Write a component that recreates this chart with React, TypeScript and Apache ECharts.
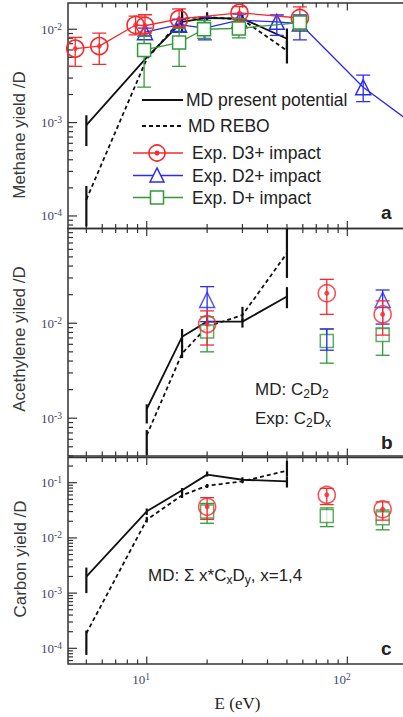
import { useEffect, useRef } from 'react';
import * as echarts from 'echarts';

// ---- palette & fonts ----
const RED = '#f42a2e';
const BLUE = '#2b2bf2';
const GREEN = '#33993a';
const INK = '#222';
const FRAME = '#333';
const TICK_TEXT = '#3f4669';
const SANS = "'Liberation Sans', Arial, Helvetica, sans-serif";
const SERIF = "'Liberation Serif', 'Times New Roman', serif";

// ---- energy axis (eV), shared by the three panels ----
const E_MIN = 4.05;
const E_MAX = 195;
const E_MINOR_TICKS = [5, 6, 7, 8, 9, 20, 30, 40, 50, 60, 70, 80, 90];
const E_MAJOR_TICKS = [10, 100];

// ---- yield axis limits per panel ----
const Y_RANGE_A = [7.34e-5, 0.0191];
const Y_RANGE_B = [4.0e-4, 0.0995];
const Y_RANGE_C = [5.2e-5, 0.286];

// ---- (a) methane yield ----
const mdE_a = [5, 10, 15, 20, 30, 50];
const mdPresent_a = [0.00094, 0.005, 0.012, 0.0132, 0.013, 0.0079];
const mdPresentLo_a = [0.00056, null, 0.0091, 0.0124, 0.0122, 0.006];
const mdPresentHi_a = [0.0012, null, 0.0165, 0.0152, 0.0142, 0.0102];
const mdRebo_a = [0.00015, 0.0048, 0.013, 0.0135, 0.0127, 0.0059];
const mdReboLo_a = [7.7e-5, null, 0.0118, 0.0128, 0.0118, 0.0043];
const mdReboHi_a = [0.00021, null, 0.0145, 0.0142, 0.0136, 0.0075];

const d3E_a = [4.4, 5.8, 8.8, 9.8, 14.5, 29, 58];
const d3Y_a = [0.0062, 0.0066, 0.0111, 0.0109, 0.0129, 0.015, 0.0132];
const d3Lo_a = [0.004, 0.0042, 0.0087, 0.0091, 0.0106, 0.0126, 0.0097];
const d3Hi_a = [0.0082, 0.0091, 0.0138, 0.0143, 0.0165, 0.0175, 0.0174];

const d2E_a = [9.8, 14.5, 19.5, 29, 44.5, 58, 120, 300];
const d2Y_a = [0.0093, 0.0112, 0.0103, 0.0125, 0.012, 0.0115, 0.00239, 0.00056];
const d2Lo_a = [0.0085, 0.0095, 0.0077, 0.0108, 0.0086, 0.0077, 0.00168, null];
const d2Hi_a = [0.0103, 0.0128, 0.0135, 0.0145, 0.0142, 0.0142, 0.00323, null];
const d2Hidden_a = [19.5]; // point sits under a D+ square

const d1E_a = [9.7, 14.5, 19.3, 28.8, 58];
const d1Y_a = [0.006, 0.0072, 0.01, 0.0102, 0.0118];
const d1Lo_a = [0.0024, 0.004, 0.008, 0.0081, 0.0098];
const d1Hi_a = [0.0084, 0.0102, 0.0124, 0.013, 0.014];

// ---- (b) acetylene yield ----
const mdE_b = [10, 15, 20, 30, 50];
const mdPresent_b = [0.00125, 0.0072, 0.0104, 0.0104, 0.0191];
const mdPresentLo_b = [0.00088, 0.0055, 0.0097, 0.009, 0.0144];
const mdPresentHi_b = [0.0014, 0.0087, 0.0112, 0.0112, 0.024];
const mdRebo_b = [0.00066, 0.0048, 0.0092, 0.0122, 0.0546];
const mdReboLo_b = [0.00041, 0.0043, 0.0088, 0.0105, 0.03];
const mdReboHi_b = [0.00075, 0.0058, 0.0097, 0.0149, 0.1];

const expE_b = [20, 79, 150];
const d3Y_b = [0.0098, 0.0207, 0.0124];
const d3Lo_b = [0.0059, 0.0124, 0.0075];
const d3Hi_b = [0.0135, 0.029, 0.0172];
const d2Y_b = [0.0176, 0.0068, 0.0176];
const d2Lo_b = [0.0104, 0.0052, 0.0098];
const d2Hi_b = [0.0243, 0.0087, 0.0224];
const d2Hidden_b = [79];
const d1Y_b = [0.0082, 0.0065, 0.0075];
const d1Lo_b = [0.005, 0.0038, 0.0046];
const d1Hi_b = [0.0117, 0.0087, 0.0089];

// ---- (c) carbon yield ----
const mdE_c = [5, 10, 15, 20, 30, 50];
const mdPresent_c = [0.00198, 0.0303, 0.0728, 0.14, 0.113, 0.106];
const mdPresentLo_c = [0.001, 0.026, 0.064, 0.13, 0.102, 0.082];
const mdPresentHi_c = [0.0029, 0.034, 0.08, 0.16, 0.125, 0.13];
const mdRebo_c = [0.000187, 0.0213, 0.059, 0.088, 0.106, 0.165];
const mdReboLo_c = [7.6e-5, 0.019, 0.053, 0.08, 0.098, 0.13];
const mdReboHi_c = [0.00021, 0.024, 0.066, 0.095, 0.115, 0.25];

const expE_c = [20, 79, 150];
const d3Y_c = [0.0367, 0.06, 0.033];
const d3Lo_c = [0.0217, 0.04, 0.021];
const d3Hi_c = [0.0535, 0.079, 0.045];
const d1Y_c = [0.03, 0.0249, 0.0227];
const d1Lo_c = [0.0184, 0.016, 0.014];
const d1Hi_c = [0.042, 0.035, 0.032];

// ---- layout ----
const GRIDS = [
  { top: 3, height: 225.5 },
  { top: 228.5, height: 227.5 },
  { top: 457.5, height: 206.5 },
];
const GRID_LEFT = 68;
const GRID_WIDTH = 337.5;

const pairs = (xs: number[], ys: number[]) => xs.map((x, i) => [x, ys[i]]);

function errorBars(gi: number, xs: number[], lo: (number | null)[], hi: (number | null)[], color: string, cap: number, width: number, z: number) {
  const data = xs
    .map((x, i) => [x, lo[i], hi[i]])
    .filter((d) => d[1] != null && d[2] != null);
  return {
    type: 'custom',
    xAxisIndex: gi,
    yAxisIndex: gi,
    z,
    silent: true,
    clip: true,
    encode: { x: 0, y: [1, 2] },
    data,
    renderItem: (_params: any, api: any) => {
      const x = api.value(0);
      const p1 = api.coord([x, api.value(1)]);
      const p2 = api.coord([x, api.value(2)]);
      const style = { stroke: color, lineWidth: width, fill: 'none' };
      const children: any[] = [
        { type: 'line', shape: { x1: p1[0], y1: p1[1], x2: p2[0], y2: p2[1] }, style },
      ];
      if (cap > 0) {
        children.push({ type: 'line', shape: { x1: p1[0] - cap / 2, y1: p1[1], x2: p1[0] + cap / 2, y2: p1[1] }, style });
        children.push({ type: 'line', shape: { x1: p2[0] - cap / 2, y1: p2[1], x2: p2[0] + cap / 2, y2: p2[1] }, style });
      }
      return { type: 'group', children };
    },
  };
}

function xTicks(gi: number, yRange: number[]) {
  const yRef = Math.sqrt(yRange[0] * yRange[1]);
  const data = [
    ...E_MINOR_TICKS.map((v) => [v, yRef, 0]),
    ...E_MAJOR_TICKS.map((v) => [v, yRef, 1]),
  ];
  return {
    type: 'custom',
    xAxisIndex: gi,
    yAxisIndex: gi,
    z: 1,
    silent: true,
    encode: { x: 0, y: 1 },
    data,
    renderItem: (params: any, api: any) => {
      const cs = params.coordSys;
      const px = api.coord([api.value(0), api.value(1)])[0];
      const len = api.value(2) === 1 ? 7.5 : 4.5;
      const style = { stroke: FRAME, lineWidth: 1.2 };
      const bottom = cs.y + cs.height;
      return {
        type: 'group',
        children: [
          { type: 'line', shape: { x1: px, y1: bottom, x2: px, y2: bottom - len }, style },
          { type: 'line', shape: { x1: px, y1: cs.y, x2: px, y2: cs.y + len }, style },
        ],
      };
    },
  };
}

function yTicks(gi: number, yRange: number[]) {
  const xRef = Math.sqrt(E_MIN * E_MAX);
  const data: number[][] = [];
  const d0 = Math.floor(Math.log10(yRange[0]));
  const d1 = Math.ceil(Math.log10(yRange[1]));
  for (let d = d0; d <= d1; d++) {
    for (let m = 1; m <= 9; m++) {
      const v = m * Math.pow(10, d);
      if (v >= yRange[0] && v <= yRange[1]) data.push([xRef, v, m === 1 ? 1 : 0]);
    }
  }
  return {
    type: 'custom',
    xAxisIndex: gi,
    yAxisIndex: gi,
    z: 1,
    silent: true,
    encode: { x: 0, y: 1 },
    data,
    renderItem: (params: any, api: any) => {
      const cs = params.coordSys;
      const py = api.coord([api.value(0), api.value(1)])[1];
      const len = api.value(2) === 1 ? 9 : 5;
      return {
        type: 'line',
        shape: { x1: cs.x, y1: py, x2: cs.x + len, y2: py },
        style: { stroke: FRAME, lineWidth: 1.2 },
      };
    },
  };
}

function mdLines(gi: number, xs: number[], present: number[], rebo: number[]) {
  return [
    {
      type: 'line', xAxisIndex: gi, yAxisIndex: gi, z: 2, silent: true, symbol: 'none',
      data: pairs(xs, present), lineStyle: { color: '#111', width: 1.8 },
    },
    {
      type: 'line', xAxisIndex: gi, yAxisIndex: gi, z: 2, silent: true, symbol: 'none',
      data: pairs(xs, rebo), lineStyle: { color: '#111', width: 1.8, type: [4, 3] },
    },
  ];
}

const ringStyle = { color: 'transparent', borderColor: RED, borderWidth: 1.6 };
const triStyle = { color: 'transparent', borderColor: BLUE, borderWidth: 1.5 };
const squareStyle = { color: '#fff', borderColor: GREEN, borderWidth: 1.5 };

function d3Marks(gi: number, xs: number[], ys: number[], withLine: boolean, z: number) {
  return [
    {
      type: withLine ? 'line' : 'scatter', xAxisIndex: gi, yAxisIndex: gi, z, silent: true,
      symbol: 'circle', symbolSize: 17, showSymbol: true,
      data: pairs(xs, ys), itemStyle: ringStyle,
      lineStyle: { color: RED, width: 1.3 },
    },
    {
      type: 'scatter', xAxisIndex: gi, yAxisIndex: gi, z: z + 0.5, silent: true,
      symbol: 'circle', symbolSize: 5, data: pairs(xs, ys), itemStyle: { color: RED },
    },
  ];
}

function d2Marks(gi: number, xs: number[], ys: number[], hidden: number[], withLine: boolean, z: number) {
  const data = xs.map((x, i) => (hidden.includes(x) ? { value: [x, ys[i]], symbol: 'none' } : { value: [x, ys[i]] }));
  return {
    type: withLine ? 'line' : 'scatter', xAxisIndex: gi, yAxisIndex: gi, z, silent: true,
    symbol: 'triangle', symbolSize: 15, showSymbol: true,
    data, itemStyle: triStyle, lineStyle: { color: BLUE, width: 1.3 },
  };
}

function d1Marks(gi: number, xs: number[], ys: number[], withLine: boolean, z: number) {
  return {
    type: withLine ? 'line' : 'scatter', xAxisIndex: gi, yAxisIndex: gi, z, silent: true,
    symbol: 'rect', symbolSize: 13, showSymbol: true,
    data: pairs(xs, ys), itemStyle: squareStyle, lineStyle: { color: GREEN, width: 1.3 },
  };
}

const powLabel = (v: number) => {
  const e = Math.log10(v);
  const r = Math.round(e);
  return Math.abs(e - r) < 1e-6 ? `{a|10}{b|${r}}` : '';
};

const powRich = {
  a: { fontFamily: SERIF, fontSize: 13, lineHeight: 15, color: TICK_TEXT },
  b: { fontFamily: SERIF, fontSize: 9.5, lineHeight: 9, color: TICK_TEXT, verticalAlign: 'top' },
};

function vtitle(text: string, x: number, y: number, size: number) {
  return {
    type: 'text', x, y, rotation: Math.PI / 2, silent: true,
    style: {
      text, font: `${size}px ${SANS}`, fill: '#3a3a3a',
      textAlign: 'center', textVerticalAlign: 'middle', align: 'center', verticalAlign: 'middle',
    },
  };
}

function plainText(text: string, x: number, y: number, font: string, align = 'left') {
  return {
    type: 'text', x, y, silent: true,
    style: {
      text, font, fill: INK,
      textAlign: align, textVerticalAlign: 'middle', align, verticalAlign: 'middle',
    },
  };
}

function subText(text: string, x: number, y: number) {
  return {
    type: 'text', x, y, silent: true,
    style: {
      text,
      fill: INK,
      textVerticalAlign: 'middle', verticalAlign: 'middle',
      rich: {
        n: { fontFamily: SANS, fontSize: 17, lineHeight: 22, color: INK },
        s: { fontFamily: SANS, fontSize: 12, lineHeight: 12, color: INK, verticalAlign: 'bottom' },
      },
    },
  };
}

function legendGraphics() {
  const lf = `17.5px ${SANS}`;
  const g: any[] = [];
  g.push({ type: 'line', silent: true, shape: { x1: 142, y1: 100, x2: 183, y2: 100 }, style: { stroke: '#111', lineWidth: 2.2 } });
  g.push(plainText('MD present potential', 186, 100, lf));
  g.push({ type: 'line', silent: true, shape: { x1: 142, y1: 126, x2: 183, y2: 126 }, style: { stroke: '#111', lineWidth: 2.2, lineDash: [4, 3] } });
  g.push(plainText('MD REBO', 188, 126, lf));
  // D3+
  g.push({ type: 'line', silent: true, shape: { x1: 133, y1: 153, x2: 183, y2: 153 }, style: { stroke: RED, lineWidth: 1.3 } });
  g.push({ type: 'circle', silent: true, shape: { cx: 157, cy: 153, r: 8 }, style: { stroke: RED, lineWidth: 1.6, fill: 'none' } });
  g.push({ type: 'circle', silent: true, shape: { cx: 157, cy: 153, r: 2.5 }, style: { fill: RED } });
  g.push(plainText('Exp. D3+ impact', 192, 153, lf));
  // D2+
  g.push({ type: 'line', silent: true, shape: { x1: 133, y1: 175.5, x2: 183, y2: 175.5 }, style: { stroke: BLUE, lineWidth: 1.3 } });
  g.push({ type: 'polygon', silent: true, shape: { points: [[157, 168], [150, 182], [164, 182]] }, style: { stroke: BLUE, lineWidth: 1.5, fill: '#fff' } });
  g.push(plainText('Exp. D2+ impact', 192, 175.5, lf));
  // D+
  g.push({ type: 'line', silent: true, shape: { x1: 133, y1: 197.5, x2: 183, y2: 197.5 }, style: { stroke: GREEN, lineWidth: 1.3 } });
  g.push({ type: 'rect', silent: true, shape: { x: 150.5, y: 191, width: 13, height: 13 }, style: { stroke: GREEN, lineWidth: 1.5, fill: '#fff' } });
  g.push(plainText('Exp. D+ impact', 192, 197.5, lf));
  return g;
}

function buildOption() {
  const yRanges = [Y_RANGE_A, Y_RANGE_B, Y_RANGE_C];
  const grid = GRIDS.map((g) => ({
    left: GRID_LEFT, top: g.top, width: GRID_WIDTH, height: g.height,
    show: true, borderColor: FRAME, borderWidth: 1.5, backgroundColor: 'transparent',
    containLabel: false, outerBoundsMode: 'none',
  }));
  const xAxis = GRIDS.map((_g, i) => ({
    type: 'log', logBase: 10, gridIndex: i, min: E_MIN, max: E_MAX,
    axisLine: { show: false }, axisTick: { show: false }, splitLine: { show: false },
    axisLabel: {
      show: i === 2, interval: 0, margin: 8, formatter: powLabel, rich: powRich,
      padding: [0, 11, 0, 0], showMinLabel: false, showMaxLabel: false,
    },
  }));
  const yAxis = yRanges.map((r, i) => ({
    type: 'log', logBase: 10, gridIndex: i, min: r[0], max: r[1],
    axisLine: { show: false }, axisTick: { show: false }, splitLine: { show: false },
    axisLabel: {
      show: true, interval: 0, margin: 6, formatter: powLabel, rich: powRich,
      showMinLabel: false, showMaxLabel: false,
    },
  }));

  const series: any[] = [];
  yRanges.forEach((r, i) => {
    series.push(xTicks(i, r));
    series.push(yTicks(i, r));
  });

  // (a)
  series.push(...mdLines(0, mdE_a, mdPresent_a, mdRebo_a));
  series.push(errorBars(0, mdE_a, mdPresentLo_a, mdPresentHi_a, '#111', 0, 2.2, 2));
  series.push(errorBars(0, mdE_a, mdReboLo_a, mdReboHi_a, '#111', 0, 2.2, 2));
  series.push(errorBars(0, d2E_a, d2Lo_a, d2Hi_a, BLUE, 14, 1.3, 3));
  series.push(d2Marks(0, d2E_a, d2Y_a, d2Hidden_a, true, 4));
  series.push(errorBars(0, d3E_a, d3Lo_a, d3Hi_a, RED, 14, 1.3, 5));
  series.push(...d3Marks(0, d3E_a, d3Y_a, true, 6));
  series.push(errorBars(0, d1E_a, d1Lo_a, d1Hi_a, GREEN, 14, 1.3, 8));
  series.push(d1Marks(0, d1E_a, d1Y_a, true, 9));

  // (b)
  series.push(...mdLines(1, mdE_b, mdPresent_b, mdRebo_b));
  series.push(errorBars(1, mdE_b, mdPresentLo_b, mdPresentHi_b, '#111', 0, 2.2, 2));
  series.push(errorBars(1, mdE_b, mdReboLo_b, mdReboHi_b, '#111', 0, 2.2, 2));
  series.push(errorBars(1, expE_b, d1Lo_b, d1Hi_b, GREEN, 14, 1.3, 3));
  series.push(d1Marks(1, expE_b, d1Y_b, false, 4));
  series.push(errorBars(1, expE_b, d2Lo_b, d2Hi_b, BLUE, 14, 1.3, 5));
  series.push(d2Marks(1, expE_b, d2Y_b, d2Hidden_b, false, 6));
  series.push(errorBars(1, expE_b, d3Lo_b, d3Hi_b, RED, 14, 1.3, 7));
  series.push(...d3Marks(1, expE_b, d3Y_b, false, 8));

  // (c)
  series.push(...mdLines(2, mdE_c, mdPresent_c, mdRebo_c));
  series.push(errorBars(2, mdE_c, mdPresentLo_c, mdPresentHi_c, '#111', 0, 2.2, 2));
  series.push(errorBars(2, mdE_c, mdReboLo_c, mdReboHi_c, '#111', 0, 2.2, 2));
  series.push(errorBars(2, expE_c, d1Lo_c, d1Hi_c, GREEN, 14, 1.3, 3));
  series.push(d1Marks(2, expE_c, d1Y_c, false, 4));
  series.push(errorBars(2, expE_c, d3Lo_c, d3Hi_c, RED, 14, 1.3, 7));
  series.push(...d3Marks(2, expE_c, d3Y_c, false, 8));

  const graphic = [
    vtitle('Methane yield /D', 19, 135, 17),
    vtitle('Acethylene yiled /D', 19, 339, 17),
    vtitle('Carbon yield /D', 20, 559, 17),
    plainText('E (eV)', 237.5, 703, `17px ${SERIF}`, 'center'),
    plainText('a', 381, 212, `bold 19px ${SANS}`),
    plainText('b', 381, 442, `bold 19px ${SANS}`),
    plainText('c', 381, 648, `bold 19px ${SANS}`),
    ...legendGraphics(),
    subText('{n|MD: C}{s|2}{n|D}{s|2}', 255, 389),
    subText('{n|Exp: C}{s|2}{n|D}{s|x}', 255, 418),
    subText('{n|MD: \u03a3 x*C}{s|x}{n|D}{s|y}{n|, x=1,4}', 148, 575),
  ];

  return {
    animation: false,
    backgroundColor: '#fff',
    grid, xAxis, yAxis, series, graphic,
  };
}

export default function App() {
  const ref = useRef<HTMLDivElement>(null);
  useEffect(() => {
    if (!ref.current) return;
    const chart = echarts.init(ref.current, undefined, { renderer: 'svg' });
    chart.setOption(buildOption() as any);
    return () => chart.dispose();
  }, []);
  return (
    <div
      ref={ref}
      style={{ position: 'absolute', left: 0, top: 0, width: 403, height: 717, background: '#fff' }}
    />
  );
}
